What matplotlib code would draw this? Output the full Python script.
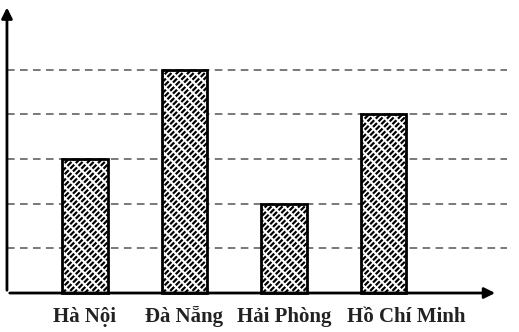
import matplotlib.pyplot as plt
import matplotlib as mpl

# du lieu
cities = ["Hà Nội", "Đà Nẵng", "Hải Phòng", "Hồ Chí Minh"]
values = [3, 5, 2, 4]
grid_levels = [1, 2, 3, 4, 5]

mpl.rcParams["hatch.linewidth"] = 1.6

fig = plt.figure(figsize=(5.19, 3.32), dpi=100)
ax = fig.add_axes([0, 0, 1, 1])
ax.set_xlim(-0.854, 4.362)
ax.set_ylim(-0.872, 6.555)
ax.axis("off")

x0, x1 = -0.784, 4.24

# duong ke ngang dut
for g in grid_levels:
    ax.plot([x0, x1], [g, g], color="#555555", lw=1.1, ls=(0, (5, 3.5)), zorder=1)

# cot: nen gach cheo + vach trang cat ngang
pos = list(range(len(cities)))
ax.bar(pos, values, width=0.46, color="white", edgecolor="black", lw=0,
       hatch="//////", zorder=2)
ax.bar(pos, values, width=0.46, color="none", edgecolor="white", lw=0,
       hatch="\\\\\\", zorder=3)
mpl.rcParams["hatch.linewidth"] = 1.0
ax.bar(pos, values, width=0.46, color="none", edgecolor="black", lw=2, zorder=4)

# truc
ax.annotate("", xy=(4.15, 0), xytext=(x0, 0),
            arrowprops=dict(arrowstyle="-|>", color="black", lw=2, mutation_scale=16))
ax.annotate("", xy=(x0, 6.45), xytext=(x0, 0),
            arrowprops=dict(arrowstyle="-|>", color="black", lw=2, mutation_scale=16))

label_x = [p for p in pos]
label_x[-1] += 0.23  # nhan cuoi lech sang phai
for lx, c in zip(label_x, cities):
    ax.text(lx, -0.65, c, ha="center", va="baseline", fontsize=15,
            family="Liberation Serif", weight="bold", color="#222222")

plt.savefig("out.png")
